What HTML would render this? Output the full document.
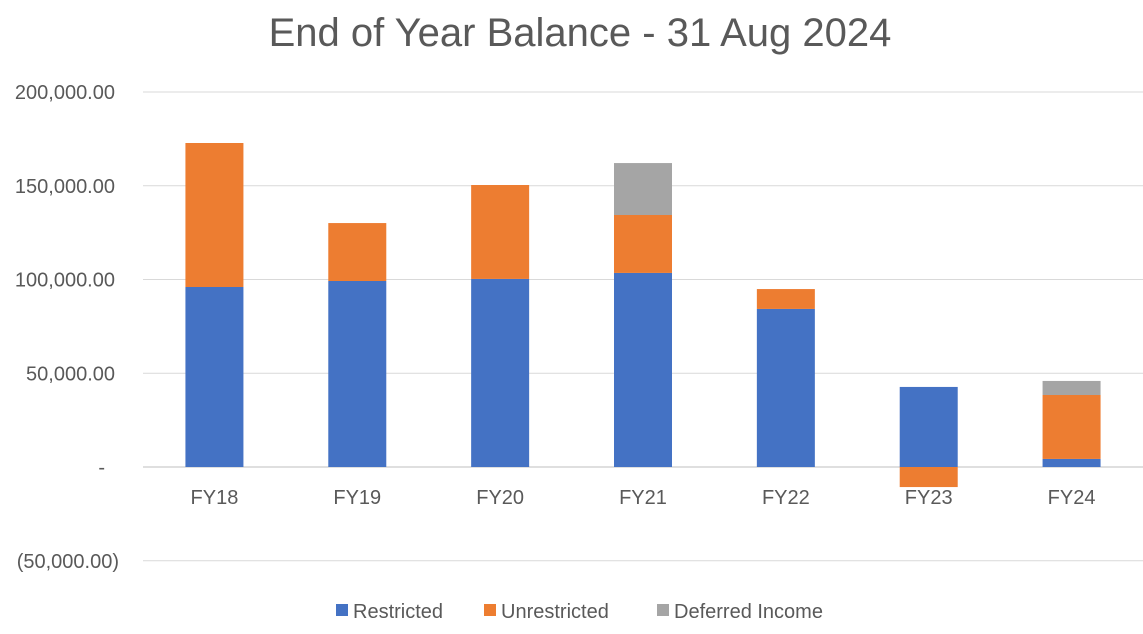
<!DOCTYPE html>
<html><head><meta charset="utf-8"><style>
body{margin:0;background:#fff;font-family:"Liberation Sans",sans-serif;}
svg{display:block}
</style></head><body>
<svg id="chart" width="1143" height="634">
<text x="580" y="46" text-anchor="middle" font-size="40" fill="#595959">End of Year Balance  - 31 Aug 2024</text>
<g id="grid"></g><g id="bars"></g><g id="xlabels"></g><g id="ylabels"></g>
<g>
<rect x="336" y="604" width="12" height="12" fill="#4472c4"/>
<text x="353" y="618" font-size="20" fill="#595959">Restricted</text>
<rect x="484" y="604" width="12" height="12" fill="#ed7d31"/>
<text x="501" y="618" font-size="20" fill="#595959">Unrestricted</text>
<rect x="657" y="604" width="12" height="12" fill="#a5a5a5"/>
<text x="674" y="618" font-size="20" fill="#595959">Deferred Income</text>
</g>
</svg>
<script>
const categories=["FY18","FY19","FY20","FY21","FY22","FY23","FY24"];
const restricted=[96000,99200,100300,103500,84300,42700,4300];
const unrestricted=[76800,30900,50100,30900,10600,-10700,34100];
const deferred=[0,0,0,27700,0,0,7500];
const ticks=[200000,150000,100000,50000,0,-50000];
const tickLabels=["200,000.00","150,000.00","100,000.00","50,000.00","-","(50,000.00)"];
const ns="http://www.w3.org/2000/svg";
const x0=143,x1=1143,yZero=467,pxPer=93.75/50000;
const y=v=>yZero-v*pxPer;
const band=(x1-x0)/categories.length;
const cx=i=>x0+band*(i+0.5);
const bw=58;
function mk(t,a,p){const e=document.createElementNS(ns,t);for(const k in a)e.setAttribute(k,a[k]);p.appendChild(e);return e;}
const grid=document.getElementById('grid'),bars=document.getElementById('bars'),xl=document.getElementById('xlabels'),yl=document.getElementById('ylabels');
ticks.forEach((t,i)=>{
 const l=mk('line',{x1:x0,x2:x1,y1:y(t),y2:y(t),stroke:t===0?'#bfbfbf':'#d9d9d9','stroke-width':1},grid);
 
 
 const tx=mk('text',{x:t<0?119:(t===0?105:115),y:y(t)+7,'text-anchor':'end','font-size':20,fill:'#595959'},yl);
 tx.textContent=tickLabels[i];
 
 
});
const series=[[restricted,'#4472c4','restricted'],[unrestricted,'#ed7d31','unrestricted'],[deferred,'#a5a5a5','deferred-income']];
categories.forEach((c,i)=>{
 let pos=0,neg=0;
 series.forEach(([arr,col,nm])=>{
  const v=arr[i]; if(!v)return;
  let a,b;
  if(v>=0){a=pos;b=pos+v;pos=b;}else{a=neg+v;b=neg;neg=a;}
  const r=mk('rect',{x:cx(i)-bw/2,y:y(b),width:bw,height:y(a)-y(b),fill:col},bars);
  
  
 });
 const t=mk('text',{x:cx(i),y:504,'text-anchor':'middle','font-size':20,fill:'#595959'},xl);
 t.textContent=c;
 
 
});
</script>
</body></html>
